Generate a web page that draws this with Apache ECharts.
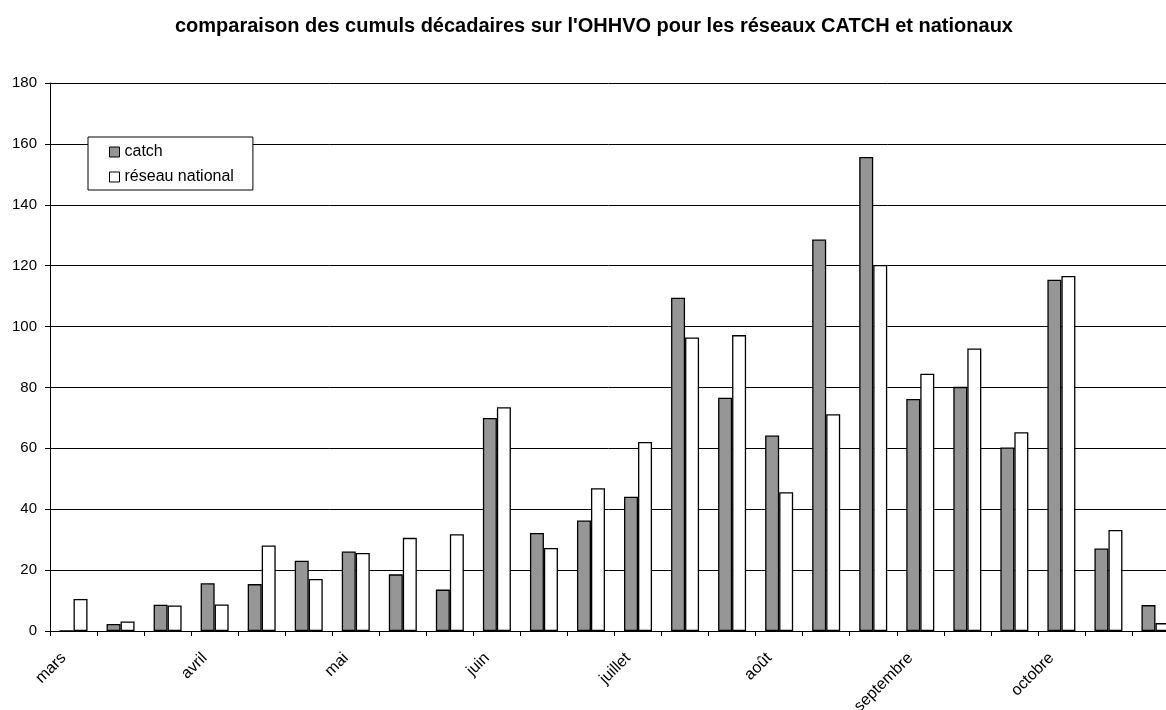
<!DOCTYPE html>
<html>
<head>
<meta charset="utf-8">
<script src="https://cdn.jsdelivr.net/npm/echarts@6/dist/echarts.min.js"></script>
<style>
html,body{margin:0;padding:0;background:#fff;}
#main{width:1166px;height:710px;}
</style>
</head>
<body>
<div id="main"></div>
<script>
const months = ['mars','avril','mai','juin','juillet','août','septembre','octobre'];
const decades = [];
months.forEach(m => { decades.push(m + ' D1', m + ' D2', m + ' D3'); });
const catchValues = [0, 2.3, 8.6, 15.7, 15.4, 23.1, 26.1, 18.6, 13.6, 70.0, 32.2, 36.3, 44.1, 109.5, 76.6, 64.2, 128.6, 155.7, 76.2, 80.2, 60.3, 115.4, 27.1, 8.5];
const nationalValues = [10.5, 3.1, 8.4, 8.7, 28.1, 17.1, 25.6, 30.6, 31.8, 73.5, 27.3, 46.9, 62.1, 96.4, 97.2, 45.6, 71.2, 120.2, 84.5, 92.8, 65.3, 116.6, 33.2, 2.6];
const yTicks = [0, 20, 40, 60, 80, 100, 120, 140, 160, 180];

const FONT = 'Liberation Sans, Arial, sans-serif';
const chart = echarts.init(document.getElementById('main'), null, {renderer: 'canvas'});
chart.setOption({
  animation: false,
  backgroundColor: '#ffffff',
  textStyle: {fontFamily: FONT, color: '#000'},
  title: {
    text: "comparaison des cumuls décadaires sur l'OHHVO pour les réseaux CATCH et nationaux",
    left: 175,
    top: 16,
    padding: 0,
    textStyle: {fontFamily: FONT, fontSize: 20, fontWeight: 'bold', color: '#000'}
  },
  legend: {
    orient: 'vertical',
    left: 88,
    top: 137,
    padding: [7, 19, 5, 21],
    borderColor: '#000',
    borderWidth: 1,
    backgroundColor: '#fff',
    itemWidth: 10,
    itemHeight: 10,
    itemGap: 9,
    icon: 'rect',
    textStyle: {fontFamily: FONT, fontSize: 16, color: '#000', lineHeight: 16},
    itemStyle: {borderColor: '#000', borderWidth: 1},
    data: ['catch', 'réseau national']
  },
  grid: {left: 50, top: 83, width: 1129, bottom: 79, containLabel: false, outerBoundsMode: 'none'},
  xAxis: {
    type: 'category',
    data: decades,
    boundaryGap: true,
    axisLine: {show: true, lineStyle: {color: '#000', width: 1}},
    axisTick: {show: true, interval: 0, length: 5, inside: false, lineStyle: {color: '#000'}},
    axisLabel: {
      interval: 2,
      rotate: 45,
      margin: 26,
      align: 'right',
      verticalAlign: 'bottom',
      padding: [0, 6, 0, 0],
      fontFamily: FONT,
      fontSize: 16,
      color: '#000',
      formatter: v => v.split(' ')[0]
    },
    splitLine: {show: false}
  },
  yAxis: {
    type: 'value',
    min: yTicks[0],
    max: yTicks[yTicks.length - 1],
    interval: yTicks[1] - yTicks[0],
    axisLine: {show: true, lineStyle: {color: '#000', width: 1}},
    axisTick: {show: true, length: 5, inside: false, lineStyle: {color: '#000'}},
    axisLabel: {margin: 13, fontFamily: FONT, fontSize: 15, color: '#000'},
    splitLine: {show: true, lineStyle: {color: '#000', width: 1}}
  },
  series: [
    {
      name: 'catch',
      type: 'bar',
      data: catchValues,
      barWidth: 14,
      barGap: '0%',
      itemStyle: {color: '#969696', borderColor: '#000', borderWidth: 1.3}
    },
    {
      name: 'réseau national',
      type: 'bar',
      data: nationalValues,
      barWidth: 14,
      barGap: '0%',
      itemStyle: {color: '#ffffff', borderColor: '#000', borderWidth: 1.3}
    }
  ]
});
</script>
</body>
</html>
